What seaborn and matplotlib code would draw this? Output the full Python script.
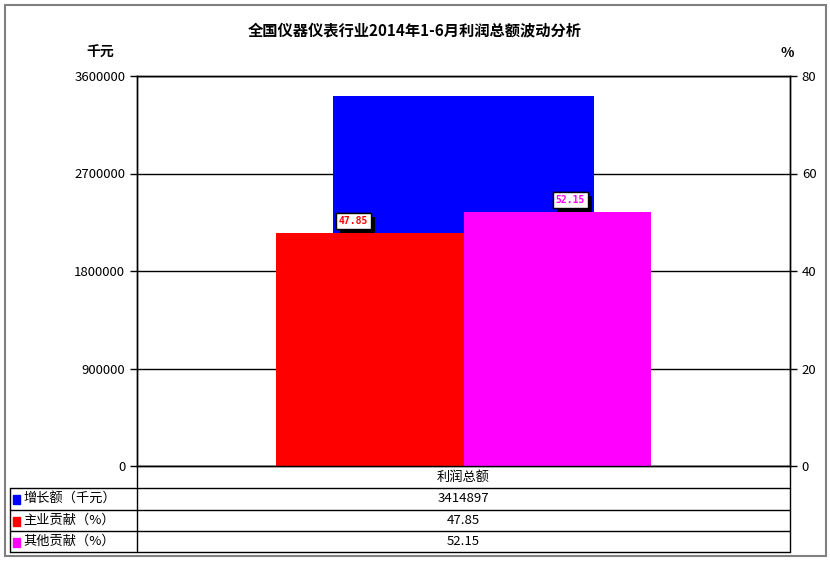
import numpy as np
import pandas as pd
import seaborn as sns
from matplotlib import pyplot as plt
from matplotlib import patheffects
from matplotlib.patches import Rectangle

# data
category = ["利润总额"]
growth = [3414897]
contrib_series = ["主业贡献（%）", "其他贡献（%）"]
contrib_values = [47.85, 52.15]
row_labels = ["增长额（千元）", "主业贡献（%）", "其他贡献（%）"]
row_values = ["3414897", "47.85", "52.15"]
row_colors = ["#0000ff", "#ff0000", "#ff00ff"]
left_ticks = [0, 900000, 1800000, 2700000, 3600000]
right_ticks = [0, 20, 40, 60, 80]

sns.set_style("white")
plt.rcParams['font.family'] = ['Noto Sans CJK SC', 'DejaVu Sans']
plt.rcParams['text.color'] = 'black'
plt.rcParams['xtick.color'] = 'black'
plt.rcParams['ytick.color'] = 'black'

W, H = 830, 563
fig = plt.figure(figsize=(W / 100, H / 100), dpi=100)

# plot area in pixels: x 137..790, y 76..466
ax1 = fig.add_axes([137 / W, 1 - 466 / H, (790 - 137) / W, (466 - 76) / H])
df_growth = pd.DataFrame({"cat": category, "val": growth})
sns.barplot(data=df_growth, x="cat", y="val", color="#0000ff", width=0.4,
            saturation=1, linewidth=0, ax=ax1)
ax1.set_xlim(-0.5, 0.5)
ax1.set_ylim(0, 3600000)
ax1.set_yticks(left_ticks)
ax1.set_yticklabels([str(t) for t in left_ticks], fontsize=9.5)
ax1.set_xticks([])
ax1.set_xlabel("")
ax1.set_ylabel("")
ax1.set_axisbelow(True)
ax1.grid(axis="y", color="black", linewidth=1)
ax1.tick_params(axis="y", direction="out", length=5, width=1, color="black", left=True)
for s in ax1.spines.values():
    s.set_color("black")
    s.set_linewidth(1)

ax2 = ax1.twinx()
df_contrib = pd.DataFrame({"cat": category * 2, "series": contrib_series, "val": contrib_values})
sns.barplot(data=df_contrib, x="cat", y="val", hue="series", palette=["#ff0000", "#ff00ff"],
            width=0.575, saturation=1, linewidth=0, legend=False, ax=ax2)
ax2.set_xlim(-0.5, 0.5)
ax2.set_ylim(0, 80)
ax2.set_yticks(right_ticks)
ax2.set_yticklabels([str(t) for t in right_ticks], fontsize=9.5)
ax2.set_xlabel("")
ax2.set_ylabel("")
ax2.tick_params(axis="y", direction="out", length=5, width=1, color="black", right=True)
for s in ax2.spines.values():
    s.set_color("black")
    s.set_linewidth(1)

# data labels with shadowed boxes
offsets = [-16, 13]
for bar, val, col, dx in zip(ax2.patches, contrib_values, ["#ff0000", "#ff00ff"], offsets):
    cx = bar.get_x() + bar.get_width() / 2
    t = ax2.annotate(f"{val:.2f}", xy=(cx, bar.get_height()), xytext=(dx, 7),
                     textcoords="offset pixels", ha="center", va="bottom",
                     fontsize=7, fontweight="bold", color=col, family="DejaVu Sans Mono",
                     bbox=dict(boxstyle="square,pad=0.3", fc="white", ec="black", lw=1))
    t.get_bbox_patch().set_path_effects([
        patheffects.withSimplePatchShadow(offset=(3, -3), shadow_rgbFace="black", alpha=1),
        patheffects.Normal()])

# overlay for title, units, border and data table (pixel coords)
ov = fig.add_axes([0, 0, 1, 1], zorder=-1)
ov.set_xlim(0, W)
ov.set_ylim(H, 0)
ov.axis("off")
ov.add_patch(Rectangle((5, 5), 821, 551, fill=False, ec="#808080", lw=1.5))

fig.text(415 / W, 1 - 30 / H, "全国仪器仪表行业2014年1-6月利润总额波动分析",
         ha="center", va="center", fontsize=11, fontweight="bold")
fig.text(100 / W, 1 - 53 / H, "千元", ha="center", va="center", fontsize=10, fontweight="bold")
fig.text(787 / W, 1 - 53 / H, "%", ha="center", va="center", fontsize=10, fontweight="bold")

tab = fig.add_axes([0, 0, 1, 1])
tab.set_xlim(0, W)
tab.set_ylim(H, 0)
tab.axis("off")
lk = dict(color="black", lw=1)
row_y = [488, 510, 531, 552]
tab.plot([137, 137], [466, 552], **lk)
tab.plot([790, 790], [466, 552], **lk)
tab.plot([10, 10], [488, 552], **lk)
for y in row_y:
    tab.plot([10, 790], [y, y], **lk)
tab.text(463, 477, category[0], ha="center", va="center", fontsize=9.5)
for i, (lab, val, col) in enumerate(zip(row_labels, row_values, row_colors)):
    yc = (row_y[i] + row_y[i + 1]) / 2
    tab.add_patch(Rectangle((13, yc - 4), 7, 9, color=col))
    tab.text(23, yc, lab, ha="left", va="center", fontsize=9.5)
    tab.text(463, yc, val, ha="center", va="center", fontsize=9.5)

fig.savefig("out.png", dpi=100)
